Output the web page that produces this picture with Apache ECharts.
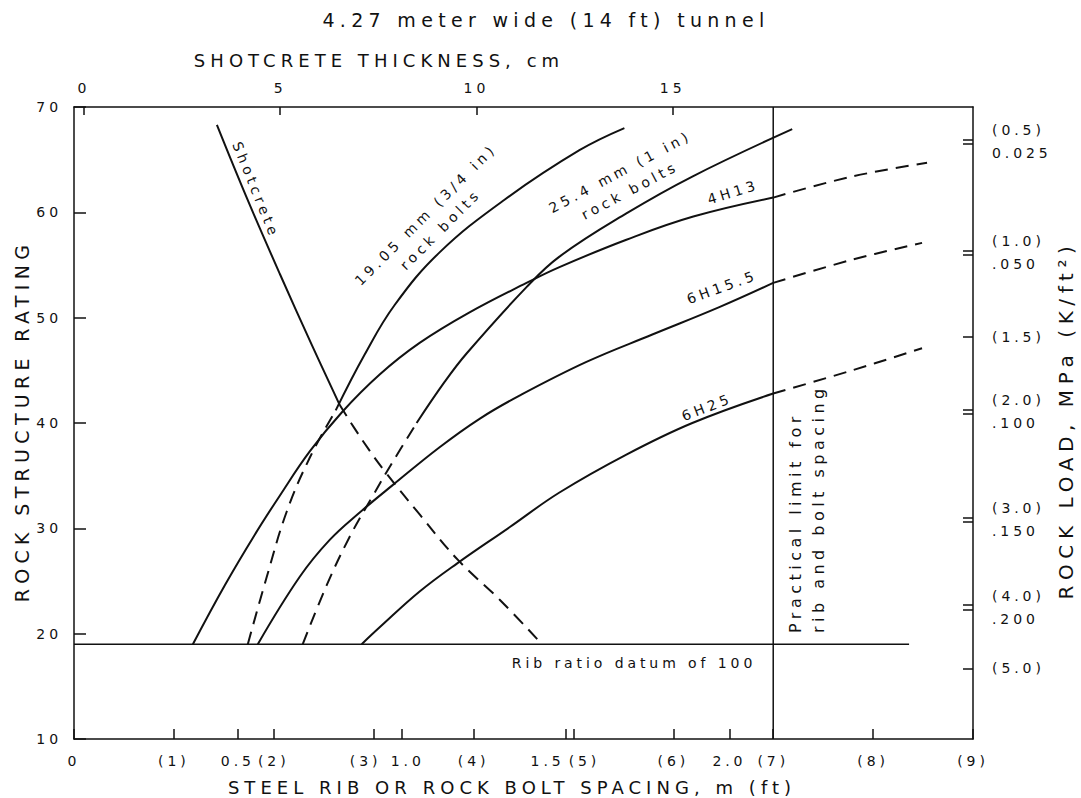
<!DOCTYPE html>
<html>
<head>
<meta charset="utf-8">
<script src="https://cdn.jsdelivr.net/npm/echarts@6/dist/echarts.min.js"></script>
<style>
  html, body { margin: 0; padding: 0; background: #ffffff; }
  #chart { width: 1081px; height: 798px; }
  #chart text { letter-spacing: 0.28em; }
</style>
</head>
<body>
<div id="chart"></div>
<script>
// ---- tick values and labels ----
const ftTicks = [0, 1, 2, 3, 4, 5, 6, 7, 8, 9];
const ftLabels = ['0', '(1)', '(2)', '(3)', '(4)', '(5)', '(6)', '(7)', '(8)', '(9)'];
const mTicks = [0.5, 1.0, 1.5, 2.0];
const mLabels = ['0.5', '1.0', '1.5', '2.0'];
const cmTicks = [0, 5, 10, 15];
const rsrTicks = [10, 20, 30, 40, 50, 60, 70];
// rock load scale on the right, placed at the RSR value it corresponds to
const loadRSR = [66.7, 56.2, 48.2, 41.1, 30.8, 22.5, 16.7];
const loadLabels = ['(0.5)\n0.025', '(1.0)\n.050', '(1.5)', '(2.0)\n.100', '(3.0)\n.150', '(4.0)\n.200', '(5.0)'];
const loadDouble = [true, true, false, true, true, true, false];

// ---- curves: [spacing ft, RSR] (shotcrete: [thickness cm, RSR]) ----
const shotcreteSolid = [[3.39, 68.3], [4.16, 61.3], [5.00, 54.1], [5.81, 47.4], [6.52, 41.7]];
const shotcreteDashed = [[6.52, 41.7], [7.09, 38.4], [7.67, 35.4], [8.56, 31.3], [9.53, 27.0], [10.60, 23.2], [11.67, 19.0]];

const bolt19Dashed = [[1.74, 19.0], [1.93, 25.4], [2.13, 31.6], [2.36, 36.7], [2.62, 41.2]];
const bolt19Solid = [[2.62, 41.2], [2.91, 46.5], [3.21, 51.2], [3.66, 56.2], [4.31, 61.2], [5.06, 65.9], [5.51, 68.0]];

const bolt25Dashed = [[2.29, 19.0], [2.53, 24.6], [2.76, 29.2], [2.98, 32.9], [3.19, 36.3], [3.43, 40.0]];
const bolt25Solid = [[3.43, 40.0], [3.71, 43.9], [3.93, 46.6], [4.53, 52.9], [4.86, 55.8], [5.53, 59.9], [6.19, 63.4], [7.19, 67.9]];

const rib4H13Solid = [[1.19, 19.0], [1.51, 24.6], [1.81, 29.4], [2.06, 33.1], [2.36, 37.3], [2.68, 41.0], [3.06, 44.6], [3.46, 47.6], [3.96, 50.5], [4.53, 53.3], [4.86, 54.8], [5.53, 57.4], [6.20, 59.6], [7.0, 61.4]];
const rib4H13Dashed = [[7.0, 61.4], [7.79, 63.4], [8.54, 64.7]];

const rib6H155Solid = [[1.84, 19.0], [2.26, 25.4], [2.56, 28.9], [2.86, 31.5], [3.19, 34.1], [3.66, 37.7], [4.06, 40.4], [4.46, 42.6], [5.13, 45.8], [5.79, 48.4], [6.46, 51.0], [7.0, 53.3]];
const rib6H155Dashed = [[7.0, 53.3], [7.79, 55.5], [8.49, 57.1]];

const rib6H25Solid = [[2.88, 19.0], [3.06, 20.6], [3.46, 24.0], [3.84, 26.7], [4.36, 30.1], [4.86, 33.4], [5.53, 37.0], [6.19, 40.0], [7.0, 42.8]];
const rib6H25Dashed = [[7.0, 42.8], [7.79, 45.0], [8.49, 47.1]];

const datumLine = [[0, 19.0], [8.36, 19.0]];
const practicalLimit = [[7, 10], [7, 70]];

// ---- build ----
const INK = '#111111';
const FONT = '"DejaVu Sans", "Liberation Sans", sans-serif';

const loadTickValues = [];
loadRSR.forEach((v, i) => {
  if (loadDouble[i]) { loadTickValues.push(v + 0.2, v - 0.2); }
  else { loadTickValues.push(v); }
});

function lookup(vals, labels, v) {
  for (let i = 0; i < vals.length; i++) {
    if (Math.abs(vals[i] - v) < 1e-6) return labels[i];
  }
  return '';
}

function curve(data, dashed, xIdx) {
  return {
    type: 'line',
    data: data,
    xAxisIndex: xIdx || 0,
    yAxisIndex: 0,
    showSymbol: false,
    smooth: 0.4,
    silent: true,
    lineStyle: { color: INK, width: 2, type: dashed ? [13, 8] : 'solid' },
    z: 3
  };
}
function straight(data, w) {
  return {
    type: 'line', data: data, showSymbol: false, silent: true,
    lineStyle: { color: INK, width: w }, z: 2
  };
}

function label(text, x, y, deg, size, align) {
  return {
    type: 'text', x: x, y: y, rotation: deg * Math.PI / 180, silent: true,
    style: {
      text: text, fill: INK, font: 'normal ' + size + 'px ' + FONT,
      textAlign: align || 'center', textVerticalAlign: 'middle', lineHeight: size + 7
    }
  };
}

const axisLineStyle = { onZero: false, lineStyle: { color: INK, width: 1.5 } };
const tickStyle = { lineStyle: { color: INK, width: 1.5 } };
const tickFont = { color: INK, fontSize: 14, fontFamily: FONT };

const option = {
  animation: false,
  backgroundColor: '#ffffff',
  grid: { left: 74, right: 108, top: 107, bottom: 59, containLabel: false },
  xAxis: [
    {
      type: 'value', position: 'bottom', min: 0, max: 9,
      axisLine: axisLineStyle,
      axisTick: { inside: true, length: 10, customValues: ftTicks, ...tickStyle },
      axisLabel: { customValues: ftTicks, margin: 15, ...tickFont,
        formatter: v => {
          const s = lookup(ftTicks, ftLabels, v);
          if (v === 5) return '{r|' + s + '}';
          if (v === 3) return '{l|' + s + '}';
          return s;
        },
        rich: { r: { padding: [0, 0, 0, 22], ...tickFont }, l: { padding: [0, 16, 0, 0], ...tickFont } } },
      splitLine: { show: false }
    },
    {
      type: 'value', position: 'bottom', min: 0, max: 9 * 0.3048,
      axisLine: { show: false, onZero: false },
      axisTick: { inside: true, length: 10, customValues: mTicks, ...tickStyle },
      axisLabel: { customValues: mTicks, margin: 15, ...tickFont,
        formatter: v => {
          const s = lookup(mTicks, mLabels, v);
          if (Math.abs(v - 1.5) < 1e-6) return '{l|' + s + '}';
          if (Math.abs(v - 1.0) < 1e-6) return '{r|' + s + '}';
          return s;
        },
        rich: { l: { padding: [0, 36, 0, 0], ...tickFont }, r: { padding: [0, 0, 0, 12], ...tickFont } } },
      splitLine: { show: false }
    },
    {
      type: 'value', position: 'top', min: -0.25, max: 22.65,
      axisLine: axisLineStyle,
      axisTick: { inside: true, length: 8, customValues: cmTicks, ...tickStyle },
      axisLabel: { customValues: cmTicks, margin: 12, ...tickFont,
        formatter: v => String(v) },
      splitLine: { show: false }
    }
  ],
  yAxis: [
    {
      type: 'value', position: 'left', min: 10, max: 70, interval: 10,
      axisLine: axisLineStyle,
      axisTick: { inside: true, length: 12, customValues: rsrTicks, ...tickStyle },
      axisLabel: { customValues: rsrTicks, margin: 12, ...tickFont },
      splitLine: { show: false }
    },
    {
      type: 'value', position: 'right', min: 10, max: 70,
      axisLine: axisLineStyle,
      axisTick: { inside: true, length: 10, customValues: loadTickValues, ...tickStyle },
      axisLabel: { customValues: loadRSR, margin: 19, ...tickFont,
        lineHeight: 23, align: 'left',
        formatter: v => lookup(loadRSR, loadLabels, v) },
      splitLine: { show: false }
    }
  ],
  series: [
    curve(shotcreteSolid, false, 2),
    curve(shotcreteDashed, true, 2),
    curve(bolt19Dashed, true),
    curve(bolt19Solid, false),
    curve(bolt25Dashed, true),
    curve(bolt25Solid, false),
    curve(rib4H13Solid, false),
    curve(rib4H13Dashed, true),
    curve(rib6H155Solid, false),
    curve(rib6H155Dashed, true),
    curve(rib6H25Solid, false),
    curve(rib6H25Dashed, true),
    straight(datumLine, 1.5),
    straight(practicalLimit, 1.5)
  ],
  graphic: [
    label('4.27 meter wide (14 ft) tunnel', 546, 20, 0, 19),
    label('SHOTCRETE THICKNESS, cm', 379, 60, 0, 18),
    label('STEEL RIB OR ROCK BOLT SPACING, m (ft)', 512, 787, 0, 18),
    label('ROCK STRUCTURE RATING', 22, 421, 90, 19),
    label('ROCK LOAD, MPa (K/ft²)', 1066, 420, 90, 20),
    label('Shotcrete', 256, 190, -68, 14),
    label('19.05 mm (3/4 in)\nrock bolts', 433, 222, 45, 14),
    label('25.4 mm (1 in)\nrock bolts', 625, 181, 28, 14),
    label('4H13', 733, 192, 17, 14),
    label('6H15.5', 722, 287, 20, 14),
    label('6H25', 707, 407, 21, 14),
    label('Rib ratio datum of 100', 634, 663, 0, 14),
    label('Practical limit for\nrib and bolt spacing', 807, 633, 90, 16, 'left')
  ]
};

const chart = echarts.init(document.getElementById('chart'), null, { renderer: 'svg' });
chart.setOption(option);
</script>
</body>
</html>
